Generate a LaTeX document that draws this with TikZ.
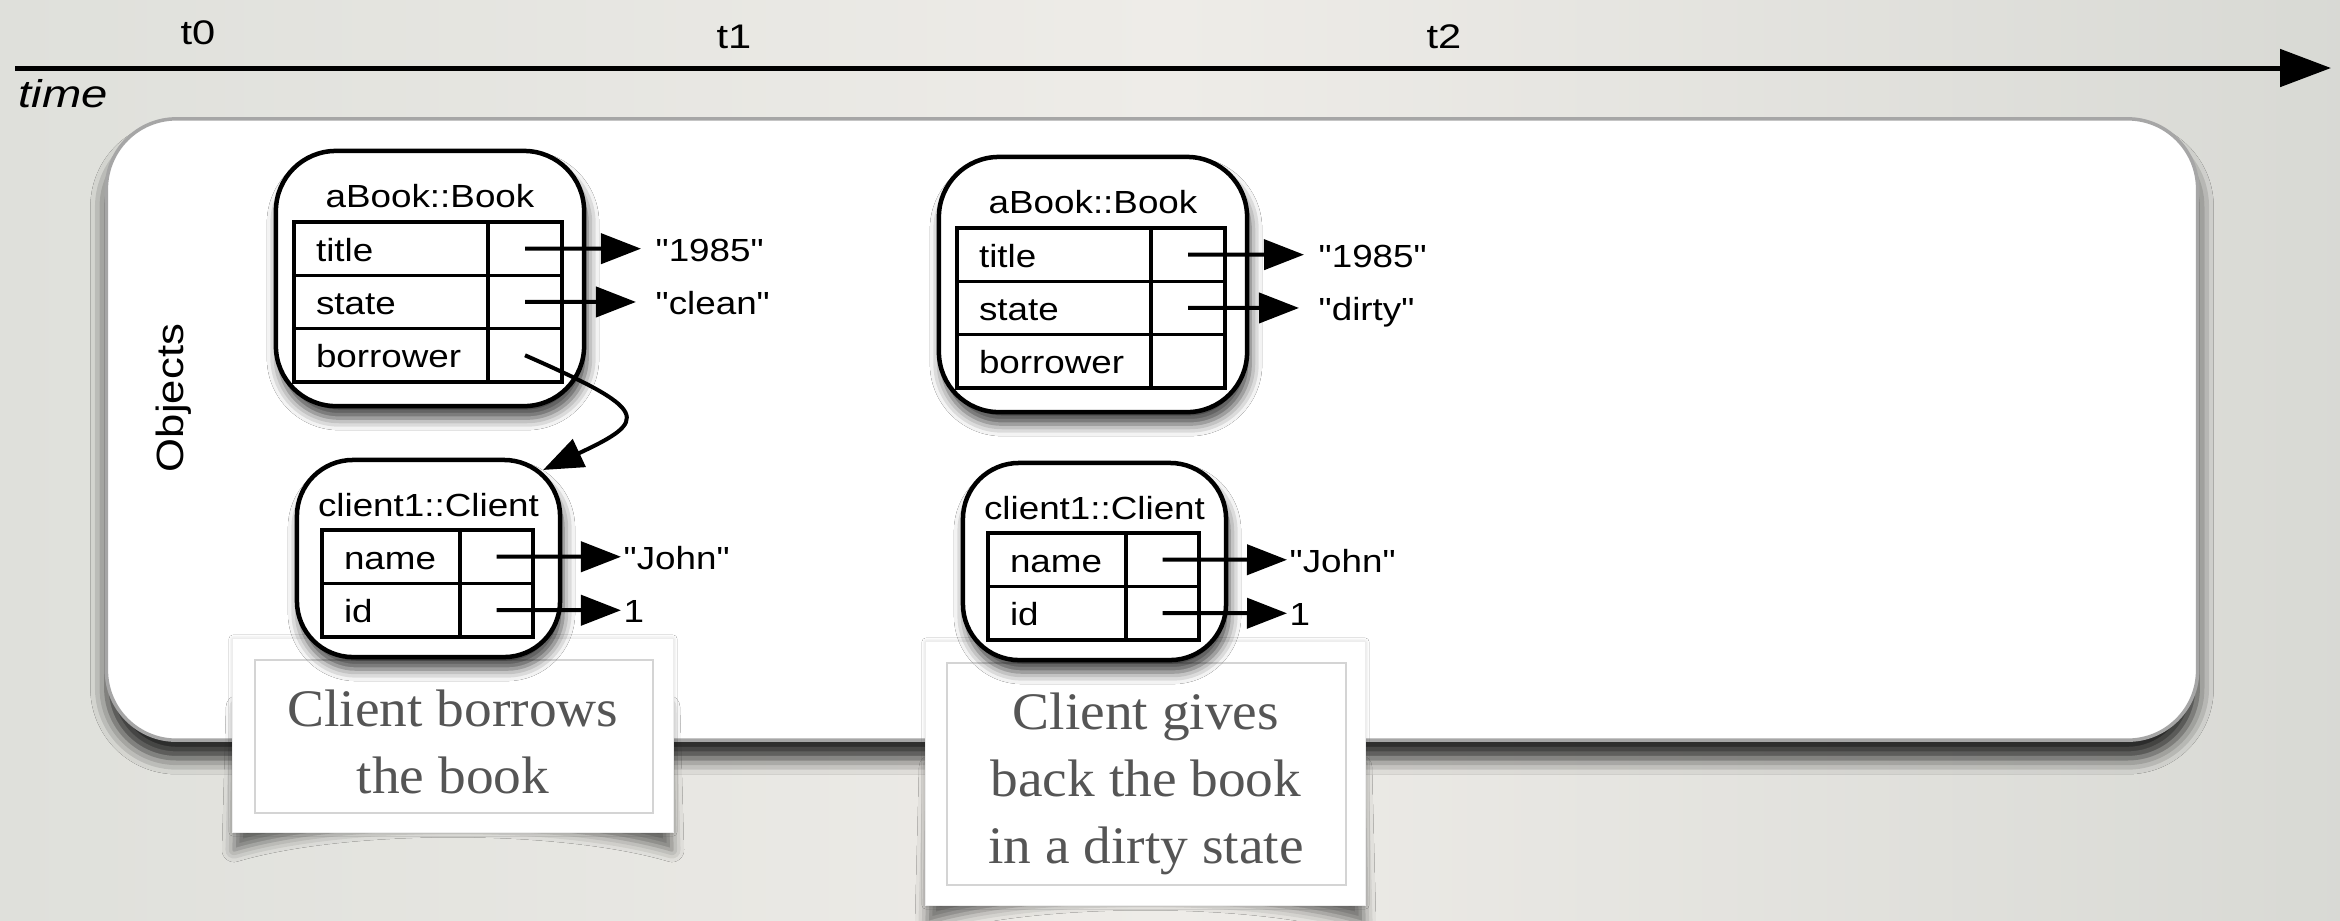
\documentclass[tikz,border=0pt]{standalone}
\usepackage{fontspec}
\setmainfont{Liberation Sans}
\newfontfamily\objfont[FakeStretch=1.15]{Liberation Sans}
\newfontfamily\axisfont[FakeStretch=1.22]{Liberation Sans}
\newfontfamily\notefont[FakeStretch=1.05]{Liberation Serif}
\usetikzlibrary{arrows.meta,shadows.blur,calc}

\definecolor{paper}{HTML}{DFE0DB}
\definecolor{paperlight}{HTML}{EEECE8}
\definecolor{framegray}{HTML}{A6A6A6}
\definecolor{notetext}{HTML}{555555}
\definecolor{noteedge}{HTML}{D4D4D4}

\tikzset{
  objbox/.style={draw=black, fill=white, line width=0.045cm, outer sep=0pt, inner sep=0pt,
    blur shadow={shadow xshift=0.03cm, shadow yshift=-0.12cm, shadow blur radius=0.12cm, shadow opacity=75}},
  objtitle/.style={font=\objfont\fontsize{9.1}{11}\selectfont, inner sep=0pt, anchor=base},
  cell/.style={draw=black, line width=0.035cm, outer sep=0pt, inner ysep=0pt, minimum height=0.533cm,
    text height=0.25cm, text depth=0cm, font=\objfont\fontsize{9.1}{11}\selectfont, anchor=north west},
  keycell/.style={cell, inner xsep=0.22cm, text width=#1, align=left},
  valcell/.style={cell, inner xsep=0pt, minimum width=#1},
  value/.style={font=\objfont\fontsize{9.1}{11}\selectfont, inner ysep=0pt, inner xsep=#1,
    text height=0.25cm, text depth=0cm, anchor=west},
  ptr/.style={line width=0.04cm, draw=black, opacity=1, fill opacity=1, draw opacity=1,
    -{Triangle[length=0.40cm, width=0.30cm, fill=black]}},
  timeaxis/.style={line width=0.05cm, draw=black, opacity=1, fill opacity=1, draw opacity=1,
    -{Triangle[length=0.51cm, width=0.37cm, fill=black]}},
  axislabel/.style={font=\axisfont\fontsize{9.7}{12}\selectfont, inner sep=0pt, anchor=base},
  noteouter/.style={fill=white, draw=black!7, line width=0.01cm, outer sep=0pt,
    blur shadow={shadow xshift=0cm, shadow yshift=0cm, shadow blur radius=0.04cm, shadow opacity=20}},
  noteinner/.style={fill=white, draw=noteedge, line width=0.02cm, outer sep=0pt},
  notelabel/.style={font=\notefont\fontsize{15}{19.06}\selectfont, text=notetext, align=center,
    inner sep=0pt, anchor=north},
  curl/.style={blur shadow={shadow xshift=0cm, shadow yshift=-0.07cm, shadow blur radius=0.12cm, shadow opacity=55}},
}

% A book object: name prefix, offset, value of the state field
\newcommand\bookobj[3]{%
  \begin{scope}[shift={#2}]
    \node[objbox, rounded corners=0.6cm, minimum width=3.08cm, minimum height=2.55cm] (#1) at (430,278.5) {};
    \node[objtitle] (#1-head) at (430,207) {aBook::Book};
    \node[keycell=1.50cm] (#1-title) at (294,222) {title};
    \node[valcell=0.74cm] (#1-title-v) at (488,222) {};
    \node[keycell=1.50cm] (#1-state) at (294,275.3) {state};
    \node[valcell=0.74cm] (#1-state-v) at (488,275.3) {};
    \node[keycell=1.50cm] (#1-borrower) at (294,328.6) {borrower};
    \node[valcell=0.74cm] (#1-borrower-v) at (488,328.6) {};
    \node[value=0.14cm] (#1-title-val) at (641,248.65) {"1985"};
    \node[value=0.19cm] (#1-state-val) at (636,301.95) {#3};
    \draw[ptr] (#1-title-v.center) -- (#1-title-val.west);
    \draw[ptr] (#1-state-v.center) -- (#1-state-val.west);
  \end{scope}}

% A client object: name prefix, offset
\newcommand\clientobj[2]{%
  \begin{scope}[shift={#2}]
    \node[objbox, rounded corners=0.56cm, minimum width=2.63cm, minimum height=1.97cm] (#1) at (428.5,558.5) {};
    \node[objtitle] (#1-head) at (428.5,516) {client1::Client};
    \node[keycell=0.94cm] (#1-name) at (322,530) {name};
    \node[valcell=0.73cm] (#1-name-v) at (460,530) {};
    \node[keycell=0.94cm] (#1-id) at (322,583.5) {id};
    \node[valcell=0.73cm] (#1-id-v) at (460,583.5) {};
    \node[value=0.02cm] (#1-name-val) at (621,556.75) {"John"};
    \node[value=0.02cm] (#1-id-val) at (621,610.25) {1};
    \draw[ptr] (#1-name-v.center) -- (#1-name-val.west);
    \draw[ptr] (#1-id-v.center) -- (#1-id-val.west);
  \end{scope}}

\begin{document}
\begin{tikzpicture}[x=0.01cm, y=-0.01cm]
  \useasboundingbox (0,0) rectangle (2340,920);
  \shade[left color=paper, right color=paper!97!black, middle color=paperlight] (0,0) rectangle (2340,920);

  % the white sheet holding the objects
  \node[fill=white, draw=framegray, line width=0.035cm, rounded corners=0.7cm, outer sep=0pt,
        minimum width=20.90cm, minimum height=6.21cm,
        blur shadow={shadow xshift=0cm, shadow yshift=-0.18cm, shadow blur radius=0.16cm, shadow opacity=85}]
        (sheet) at (1152,429.5) {};
  \node[font=\objfont\fontsize{10.8}{13}\selectfont, rotate=90, inner sep=0pt] (objects) at (174,398) {Objects};

  % first note
  \path[curl] (238,700) -- (668,700) -- (672,843) .. controls (560,810) and (346,810) .. (234,843) -- cycle;
  \node[noteouter, minimum width=4.40cm, minimum height=1.93cm] (note1) at (453,735.5) {};
  \node[noteinner, minimum width=3.98cm, minimum height=1.53cm] (note1in) at (454,736.5) {};
  \node[notelabel] (note1text) at (453,689) {Client borrows\\the book};

  % second note
  \path[curl] (931,760) -- (1360,760) -- (1364,916) .. controls (1253,883) and (1038,883) .. (927,916) -- cycle;
  \node[noteouter, minimum width=4.39cm, minimum height=2.63cm] (note2) at (1145.5,773.5) {};
  \node[noteinner, minimum width=3.99cm, minimum height=2.22cm] (note2in) at (1146.5,774) {};
  \node[notelabel] (note2text) at (1146,692) {Client gives\\back the book\\in a dirty state};

  % objects at the two moments
  \bookobj{b1}{(0,0)}{"clean"}
  \clientobj{c1}{(0,0)}
  \draw[ptr] (b1-borrower-v.center) .. controls +(125,55) and +(107,-50) .. ($(c1.north east)+(-17,10)$);
  \bookobj{b2}{(663,6)}{"dirty"}
  \clientobj{c2}{(666,3)}

  % time axis
  \coordinate (axis-start) at (15,68);
  \coordinate (axis-end) at (2331,68);
  \draw[timeaxis] (axis-start) -- (axis-end);
  \node[axislabel] (t0) at (198,44) {t0};
  \node[axislabel] (t1) at (734,48) {t1};
  \node[axislabel] (t2) at (1444,48) {t2};
  \node[font=\axisfont\itshape\fontsize{11}{13}\selectfont, inner sep=0pt, anchor=base west] (time) at (18,107) {time};
\end{tikzpicture}
\end{document}
